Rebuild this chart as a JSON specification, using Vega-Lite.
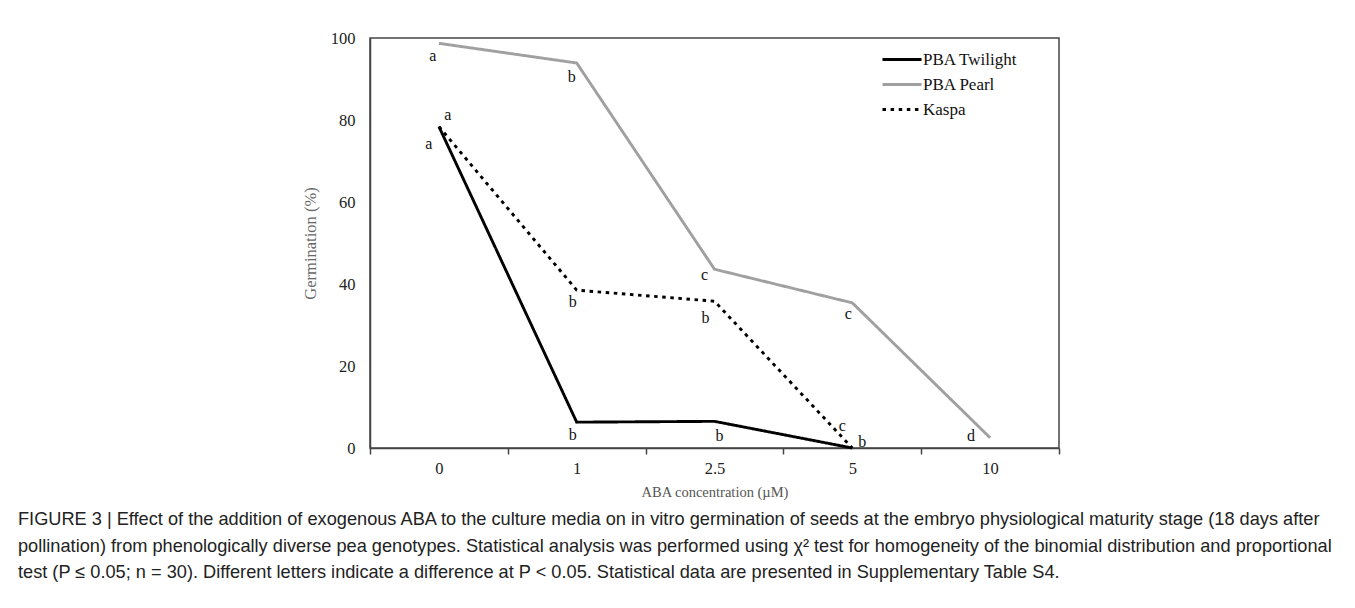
{
  "$schema": "https://vega.github.io/schema/vega-lite/v6.json",
  "width": 689,
  "height": 410,
  "autosize": {"type": "none"},
  "padding": {"left": 370, "top": 38, "right": 296, "bottom": 160},
  "background": "white",
  "title": {
    "text": [
      "FIGURE 3 | Effect of the addition of exogenous ABA to the culture media on in vitro germination of seeds at the embryo physiological maturity stage (18 days after",
      "pollination) from phenologically diverse pea genotypes. Statistical analysis was performed using χ² test for homogeneity of the binomial distribution and proportional",
      "test (P ≤ 0.05; n = 30). Different letters indicate a difference at P < 0.05. Statistical data are presented in Supplementary Table S4."
    ],
    "orient": "bottom",
    "anchor": "start",
    "frame": "group",
    "dx": -352,
    "offset": 12,
    "baseline": "top",
    "font": "Liberation Sans",
    "fontSize": 18.2,
    "fontWeight": "normal",
    "lineHeight": 26.5,
    "color": "#222222"
  },
  "datasets": {
    "lines": [
      {"conc": "0", "series": "PBA Pearl", "value": 98.7},
      {"conc": "1", "series": "PBA Pearl", "value": 93.9},
      {"conc": "2.5", "series": "PBA Pearl", "value": 43.6},
      {"conc": "5", "series": "PBA Pearl", "value": 35.4},
      {"conc": "10", "series": "PBA Pearl", "value": 2.5},
      {"conc": "0", "series": "Kaspa", "value": 78.4},
      {"conc": "1", "series": "Kaspa", "value": 38.5},
      {"conc": "2.5", "series": "Kaspa", "value": 35.8},
      {"conc": "5", "series": "Kaspa", "value": 0},
      {"conc": "0", "series": "PBA Twilight", "value": 78.4},
      {"conc": "1", "series": "PBA Twilight", "value": 6.3},
      {"conc": "2.5", "series": "PBA Twilight", "value": 6.5},
      {"conc": "5", "series": "PBA Twilight", "value": 0}
    ],
    "letters": [
      {"conc": "0", "series": "PBA Pearl", "letter": "a", "ly": 95.6, "lx": 0.456},
      {"conc": "1", "series": "PBA Pearl", "letter": "b", "ly": 90.5, "lx": 0.464},
      {"conc": "2.5", "series": "PBA Pearl", "letter": "c", "ly": 42.2, "lx": 0.427},
      {"conc": "5", "series": "PBA Pearl", "letter": "c", "ly": 32.7, "lx": 0.471},
      {"conc": "10", "series": "PBA Pearl", "letter": "d", "ly": 2.9, "lx": 0.362},
      {"conc": "0", "series": "PBA Twilight", "letter": "a", "ly": 74.1, "lx": 0.427},
      {"conc": "1", "series": "PBA Twilight", "letter": "b", "ly": 3.2, "lx": 0.471},
      {"conc": "2.5", "series": "PBA Twilight", "letter": "b", "ly": 2.9, "lx": 0.536},
      {"conc": "5", "series": "PBA Twilight", "letter": "b", "ly": 1.5, "lx": 0.573},
      {"conc": "0", "series": "Kaspa", "letter": "a", "ly": 81.2, "lx": 0.565},
      {"conc": "1", "series": "Kaspa", "letter": "b", "ly": 35.6, "lx": 0.471},
      {"conc": "2.5", "series": "Kaspa", "letter": "b", "ly": 31.7, "lx": 0.435},
      {"conc": "5", "series": "Kaspa", "letter": "c", "ly": 5.4, "lx": 0.427}
    ]
  },
  "encoding": {
    "x": {
      "field": "conc",
      "type": "ordinal",
      "sort": ["0", "1", "2.5", "5", "10"],
      "scale": {"type": "band", "domain": ["0", "1", "2.5", "5", "10"], "paddingInner": 0, "paddingOuter": 0},
      "axis": {
        "title": "ABA concentration  (µM)",
        "labelAngle": 0,
        "tickBand": "extent",
        "tickSize": 6,
        "tickColor": "#444444",
        "tickWidth": 1.5,
        "labelPadding": 6,
        "titlePadding": 9
      }
    }
  },
  "layer": [
    {
      "data": {"name": "lines"},
      "mark": {"type": "line", "strokeWidth": 2.9, "strokeCap": "butt", "strokeJoin": "miter"},
      "encoding": {
        "y": {
          "field": "value",
          "type": "quantitative",
          "scale": {"domain": [0, 100], "nice": false},
          "axis": {
            "title": "Germination  (%)",
            "values": [0, 20, 40, 60, 80, 100],
            "ticks": false,
            "labelPadding": 15,
            "titlePadding": 12,
            "titleFontSize": 16.5,
            "titleColor": "#666666",
            "grid": false
          }
        },
        "color": {
          "field": "series",
          "type": "nominal",
          "scale": {"domain": ["PBA Twilight", "PBA Pearl", "Kaspa"], "range": ["#000000", "#a0a0a0", "#000000"]},
          "legend": {
            "title": null,
            "orient": "none",
            "legendX": 515.5,
            "legendY": 5,
            "symbolType": "M-1.3,0H1.3",
            "symbolSize": 900,
            "symbolStrokeWidth": 3,
            "labelOffset": 4.5,
            "rowPadding": 0,
            "padding": 0
          }
        },
        "strokeDash": {
          "field": "series",
          "type": "nominal",
          "scale": {"domain": ["PBA Twilight", "PBA Pearl", "Kaspa"], "range": [[1, 0], [1, 0], [3.5, 4.6]]},
          "legend": null
        },
        "order": {"field": "series", "type": "nominal"}
      }
    },
    {
      "data": {"name": "letters"},
      "mark": {"type": "text", "font": "Liberation Serif", "fontSize": 16, "color": "#111111", "baseline": "middle", "align": "center"},
      "encoding": {
        "xOffset": {"field": "lx", "type": "quantitative", "scale": {"domain": [0, 1]}},
        "y": {"field": "ly", "type": "quantitative"},
        "text": {"field": "letter"}
      }
    }
  ],
  "config": {
    "font": "Liberation Serif",
    "view": {"stroke": "#444444", "strokeWidth": 1.5},
    "axis": {
      "domainColor": "#444444",
      "domainWidth": 1.5,
      "labelFont": "Liberation Serif",
      "labelFontSize": 16.5,
      "labelColor": "#222222",
      "titleFont": "Liberation Serif",
      "titleFontSize": 14.5,
      "titleFontWeight": "normal",
      "titleColor": "#555555",
      "grid": false
    },
    "legend": {
      "labelFont": "Liberation Serif",
      "labelFontSize": 17,
      "labelColor": "#111111"
    }
  }
}
